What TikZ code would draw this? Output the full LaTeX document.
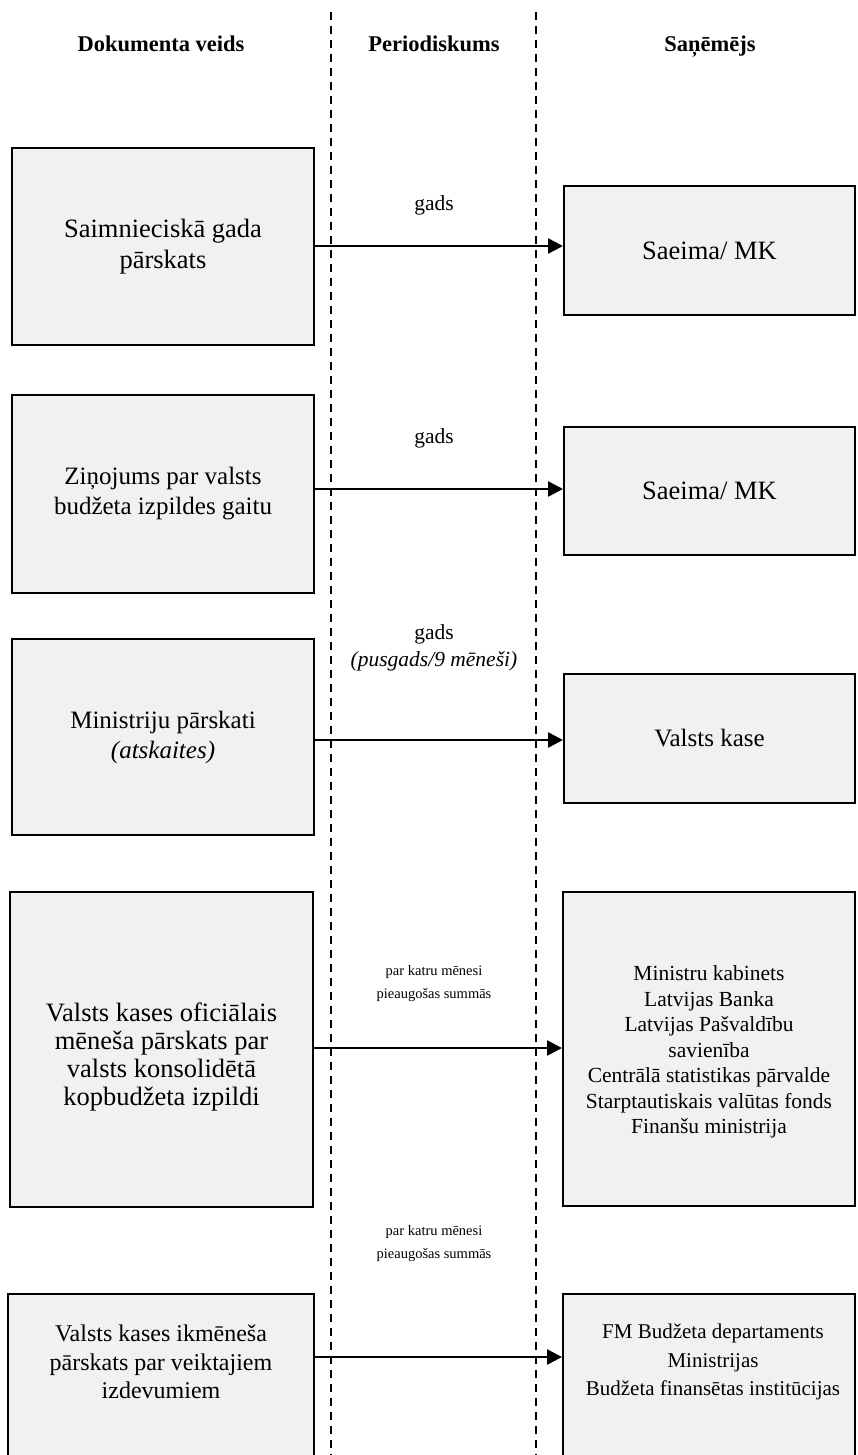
\documentclass[tikz,border=0pt]{standalone}
\usepackage{fontspec}
\setmainfont{Liberation Serif}
\usetikzlibrary{arrows.meta}
\definecolor{boxfill}{HTML}{F1F1F1}
\begin{document}
\begin{tikzpicture}[x=1pt,y=-1pt,
  docbox/.style={draw=black, line width=2pt, fill=boxfill, align=center, inner sep=0pt},
  bigtext/.style={font=\fontsize{26.5}{31}\selectfont},
  midtext/.style={font=\fontsize{25}{30}\selectfont},
  listtext/.style={font=\fontsize{21.5}{25.5}\selectfont},
  lbl/.style={align=center, inner sep=0pt, font=\fontsize{21.5}{27}\selectfont},
  smalllbl/.style={align=center, inner sep=0pt, font=\fontsize{14.5}{23}\selectfont},
  head/.style={inner sep=0pt, anchor=base, font=\fontsize{22.5}{26}\selectfont\bfseries},
  divider/.style={line width=1.4pt, dash pattern=on 8pt off 6pt},
  flow/.style={line width=2.5pt, -{Triangle[length=15pt,width=15pt]}}
]
\useasboundingbox (0,0) rectangle (857,1455);

% column dividers
\coordinate (v1top) at (331,12);
\coordinate (v1bot) at (331,1460);
\coordinate (v2top) at (536,12);
\coordinate (v2bot) at (536,1460);
\draw[divider] (v1top) -- (v1bot);
\draw[divider] (v2top) -- (v2bot);

% column headings
\node[head] (h1) at (161,52) {Dokumenta veids};
\node[head] (h2) at (434,52) {Periodiskums};
\node[head] (h3) at (710,52) {Saņēmējs};

% row 1
\node[docbox, bigtext, minimum width=302, minimum height=197] (d1) at (163,246.5)
  {Saimnieciskā gada\\pārskats};
\node[docbox, bigtext, minimum width=291, minimum height=129] (r1) at (709.5,250.5)
  {Saeima/ MK};
\coordinate (a1) at (0,246);
\draw[flow] (d1.east |- a1) -- (r1.west |- a1);
\node[lbl] (p1) at (434,205) {gads};

% row 2
\node[docbox, midtext, minimum width=302, minimum height=198] (d2) at (163,494)
  {Ziņojums par valsts\\budžeta izpildes gaitu};
\node[docbox, bigtext, minimum width=291, minimum height=128] (r2) at (709.5,491)
  {Saeima/ MK};
\coordinate (a2) at (0,489);
\draw[flow] (d2.east |- a2) -- (r2.west |- a2);
\node[lbl] (p2) at (434,438) {gads};

% row 3
\node[docbox, midtext, minimum width=302, minimum height=196] (d3) at (163,737)
  {Ministriju pārskati\\\textit{(atskaites)}};
\node[docbox, midtext, minimum width=291, minimum height=129] (r3) at (709.5,738.5)
  {Valsts kase};
\coordinate (a3) at (0,740);
\draw[flow] (d3.east |- a3) -- (r3.west |- a3);
\node[lbl] (p3) at (434,648) {gads\\\textit{(pusgads/9 mēneši)}};

% row 4
\node[docbox, minimum width=303, minimum height=315] (d4) at (161.5,1049.5) {};
\node[align=center, inner sep=0pt, font=\fontsize{26.5}{28}\selectfont] (d4t) at (161.5,1057)
  {Valsts kases oficiālais\\mēneša pārskats par\\valsts konsolidētā\\kopbudžeta izpildi};
\node[docbox, minimum width=292, minimum height=314] (r4) at (709,1049) {};
\node[align=center, inner sep=0pt, listtext] (r4t) at (709,1052)
  {Ministru kabinets\\Latvijas Banka\\Latvijas Pašvaldību\\savienība\\Centrālā statistikas pārvalde\\Starptautiskais valūtas fonds\\Finanšu ministrija};
\coordinate (a4) at (0,1048);
\draw[flow] (d4.east |- a4) -- (r4.west |- a4);
\node[smalllbl] (p4) at (434,984) {par katru mēnesi\\pieaugošas summās};

% row 5 (boxes run on past the lower edge)
\node[docbox, minimum width=306, minimum height=200, anchor=north] (d5) at (161,1293) {};
\node[align=center, inner sep=0pt, font=\fontsize{24}{28.5}\selectfont] (d5t) at (161,1362)
  {Valsts kases ikmēneša\\pārskats par veiktajiem\\izdevumiem};
\node[docbox, minimum width=292, minimum height=200, anchor=north] (r5) at (709,1293) {};
\node[align=center, inner sep=0pt, font=\fontsize{21}{28.5}\selectfont] (r5t) at (713,1362)
  {FM Budžeta departaments\\Ministrijas\\Budžeta finansētas institūcijas};
\coordinate (a5) at (0,1357);
\draw[flow] (d5.east |- a5) -- (r5.west |- a5);
\node[smalllbl] (p5) at (434,1244) {par katru mēnesi\\pieaugošas summās};
\end{tikzpicture}
\end{document}
